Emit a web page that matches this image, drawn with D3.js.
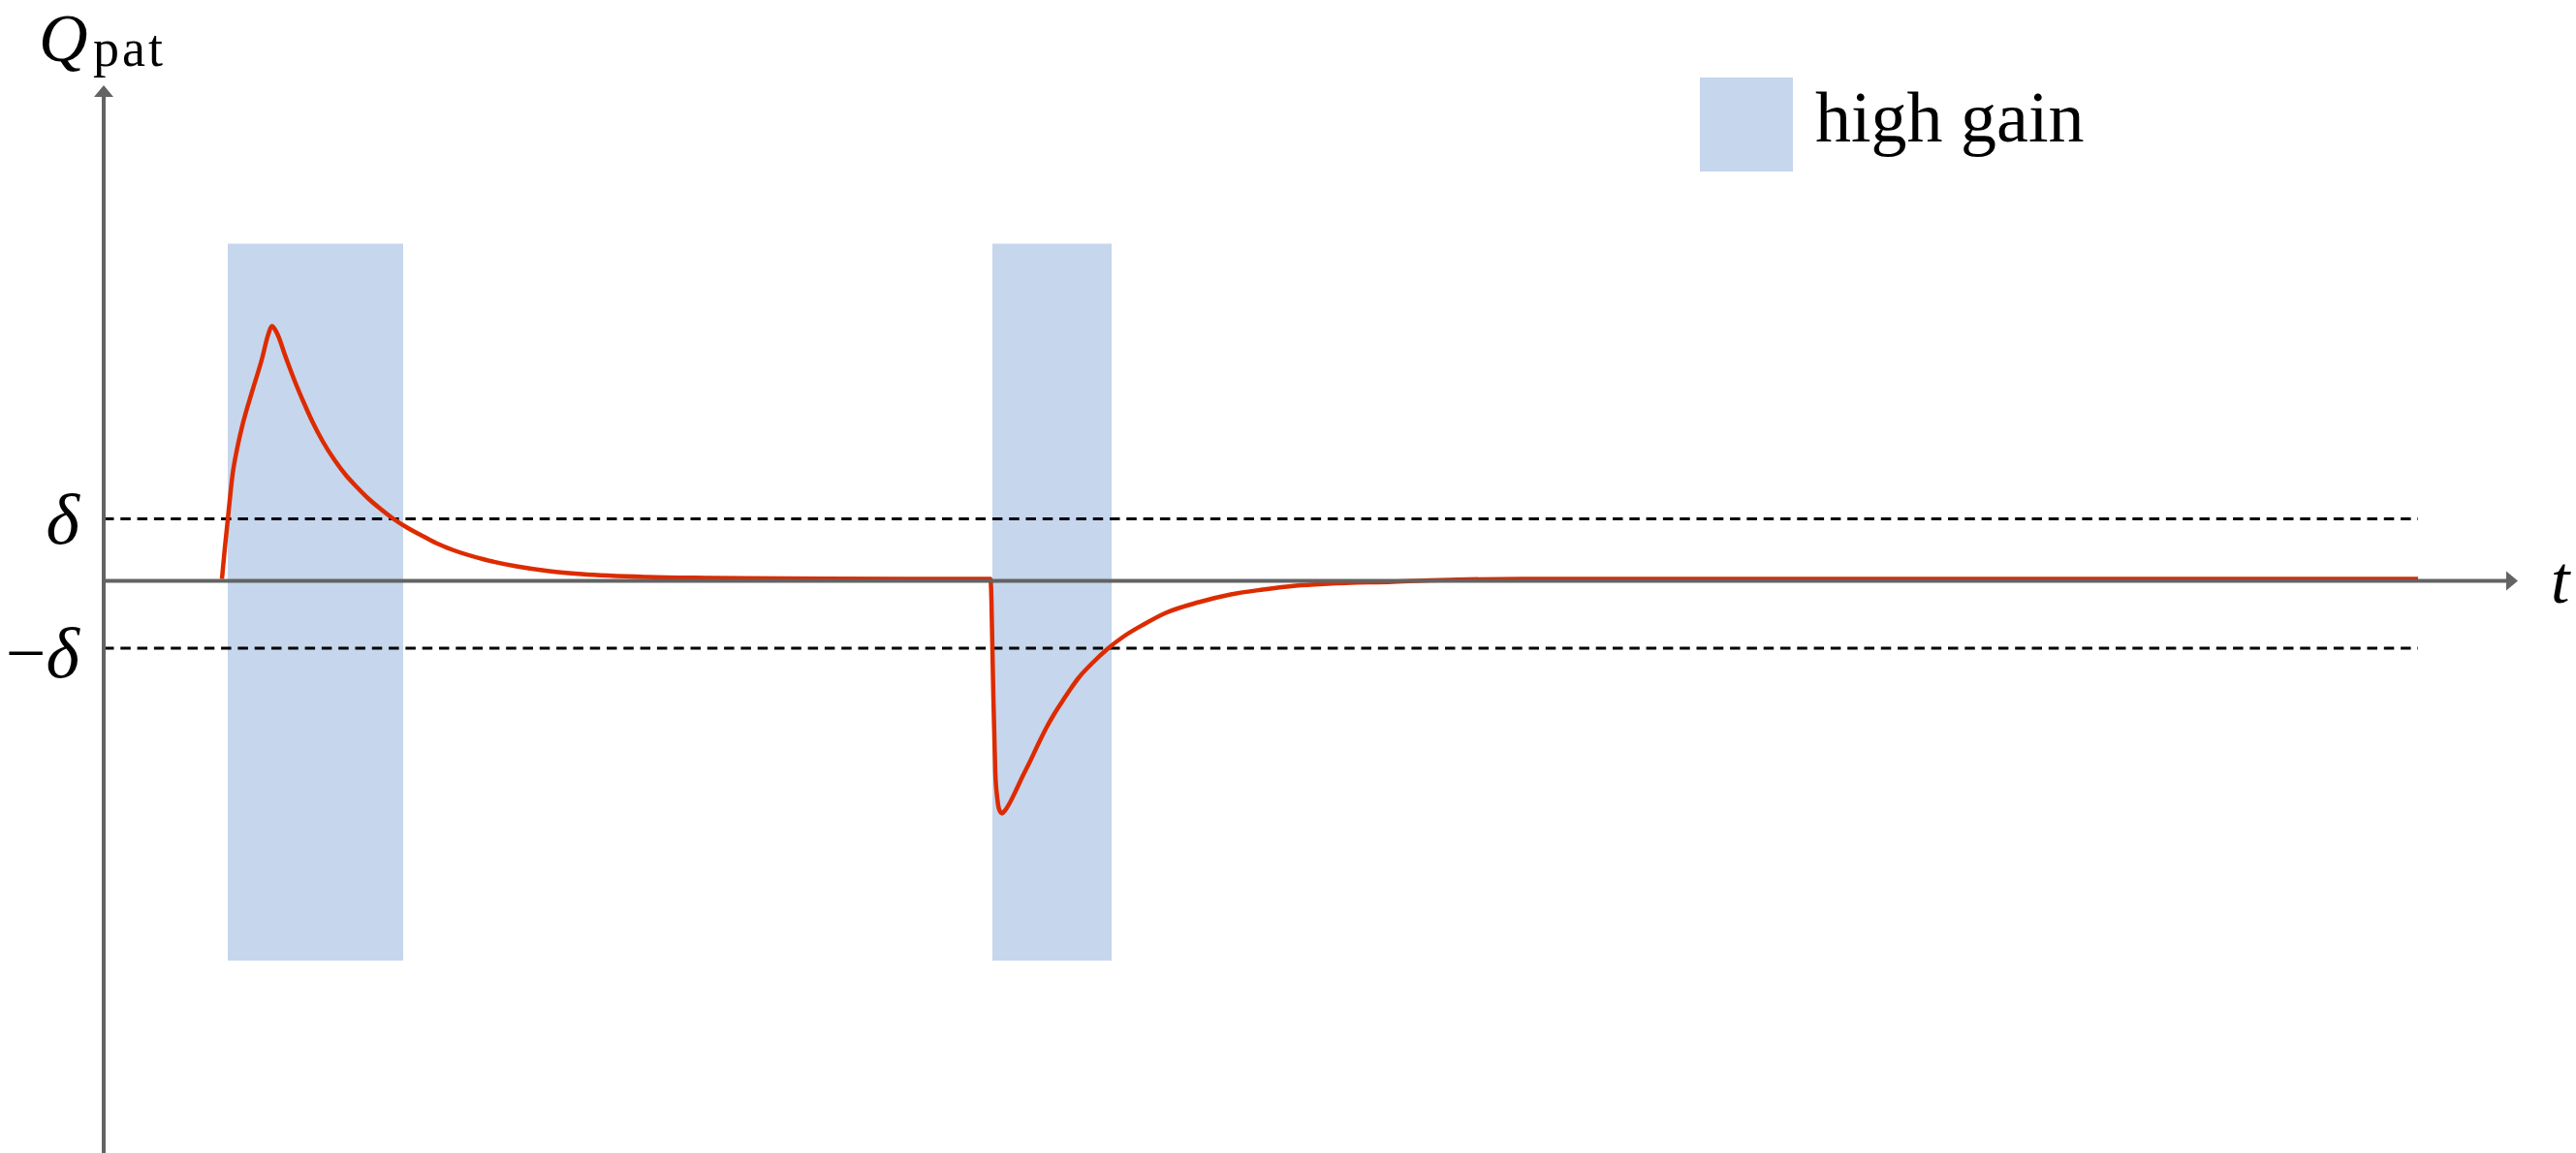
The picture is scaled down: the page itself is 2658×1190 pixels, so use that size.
<!DOCTYPE html>
<html>
<head>
<meta charset="utf-8">
<script src="https://cdn.jsdelivr.net/npm/d3@7"></script>
<style>
  html, body { margin: 0; padding: 0; background: #fff; }
  svg { display: block; }
</style>
</head>
<body>
<svg id="chart" width="2658" height="1190"></svg>
<script>
// ---------- data (time t, quantity Q_pat) ----------
const highGainIntervals = [[12.8, 30.9], [91.7, 104.0]];
const highGainBand = [-39.2, 34.8];           // vertical extent of shaded bands
const deltaUpper = 6.4;
const deltaLower = -6.95;
const curveEnd = 238.8;

const curveT = [
  12.2, 12.5, 12.8, 13.3, 13.8, 14.3, 15.3, 16.3, 17.0, 17.35, 17.7,
  18.0, 18.3, 18.6, 19.0, 19.8, 20.6, 21.6, 22.6, 23.8, 25.0, 26.1, 27.3, 28.6,
  29.9, 31.3, 32.6, 34.3, 36.0, 39.3, 42.6, 46.0, 49.3, 56.0, 62.6,
  74.3, 91.5,
  91.6, 91.7, 91.8, 91.9, 92.0, 92.2, 92.4, 92.7, 93.0, 93.5, 94.0,
  94.8, 95.6, 96.4, 97.3, 98.1, 99.0, 99.8, 100.6, 102.1, 103.6, 105.3,
  107.3, 109.6, 113.0, 116.3, 119.6, 123.0, 126.3, 133.0, 139.6, 146.3,
  238.8
];
const curveQ = [
  0.2, 3.4, 6.3, 11.0, 13.8, 16.0, 19.5, 22.8, 25.5, 26.3, 25.9,
  25.3, 24.5, 23.6, 22.5, 20.4, 18.5, 16.3, 14.4, 12.5, 10.9, 9.7, 8.5, 7.4,
  6.4, 5.5, 4.8, 3.9, 3.2, 2.2, 1.5, 1.0, 0.7, 0.4, 0.3,
  0.22, 0.2,
  -2.0, -7.0, -12.0, -16.0, -19.8, -22.4, -23.6, -24.0, -23.7, -22.9, -21.9,
  -20.2, -18.6, -16.9, -15.1, -13.7, -12.3, -11.1, -10.0, -8.4, -7.0, -5.7,
  -4.5, -3.3, -2.2, -1.4, -0.9, -0.5, -0.3, -0.1, 0.12, 0.2,
  0.2
];
const axisTExtent = [0, 249.1];
const axisQExtent = [-59.05, 51.15];
const legendLabel = "high gain";

// ---------- scales ----------
const svg = d3.select("#chart");
const x = d3.scaleLinear().domain(axisTExtent).range([107, 2598]);
const y = d3.scaleLinear().domain([-10, 10]).range([699.5, 499.5]);

const blue = "#c5d6ed";
const red = "#dd2b00";
const axisGrey = "#636363";

// shaded high-gain bands
svg.append("g").selectAll("rect")
  .data(highGainIntervals)
  .join("rect")
  .attr("x", d => x(d[0]))
  .attr("width", d => x(d[1]) - x(d[0]))
  .attr("y", y(highGainBand[1]))
  .attr("height", y(highGainBand[0]) - y(highGainBand[1]))
  .attr("fill", blue);

// dashed delta lines
svg.append("g").selectAll("line")
  .data([deltaUpper, deltaLower])
  .join("line")
  .attr("x1", x(0)).attr("x2", x(curveEnd))
  .attr("y1", d => y(d)).attr("y2", d => y(d))
  .attr("stroke", "#000")
  .attr("stroke-width", 2.8)
  .attr("stroke-dasharray", "10.5,6.8");

// red response curve
const pts = curveT.map((t, i) => [t, curveQ[i]]);
svg.append("path")
  .datum(pts)
  .attr("fill", "none")
  .attr("stroke", red)
  .attr("stroke-width", 4.5)
  .attr("stroke-linejoin", "round")
  .attr("d", d3.line().x(d => x(d[0])).y(d => y(d[1])).curve(d3.curveMonotoneX));

// axes with arrowheads
const ax = svg.append("g");
ax.append("line")
  .attr("x1", x(0)).attr("x2", x(axisTExtent[1]) - 11)
  .attr("y1", y(0)).attr("y2", y(0))
  .attr("stroke", axisGrey).attr("stroke-width", 4);
ax.append("line")
  .attr("x1", x(0)).attr("x2", x(0))
  .attr("y1", y(axisQExtent[0])).attr("y2", y(axisQExtent[1]) + 11)
  .attr("stroke", axisGrey).attr("stroke-width", 4);
const xt = x(axisTExtent[1]), y0 = y(0);
ax.append("path")
  .attr("d", `M${xt},${y0} L${xt - 12},${y0 - 10} L${xt - 12},${y0 + 10} Z`)
  .attr("fill", axisGrey);
const yt = y(axisQExtent[1]), x0 = x(0);
ax.append("path")
  .attr("d", `M${x0},${yt} L${x0 - 10},${yt + 12} L${x0 + 10},${yt + 12} Z`)
  .attr("fill", axisGrey);

// labels
const serif = "'Liberation Serif', 'DejaVu Serif', serif";
svg.append("text")
  .attr("x", 40).attr("y", 63)
  .attr("font-family", serif).attr("font-style", "italic")
  .attr("font-size", 70).attr("fill", "#000")
  .text("Q");
svg.append("text")
  .attr("x", 96).attr("y", 68)
  .attr("font-family", serif).attr("font-size", 54)
  .attr("letter-spacing", 3).attr("fill", "#000")
  .text("pat");

svg.append("text")
  .attr("x", 2632).attr("y", 622)
  .attr("font-family", serif).attr("font-style", "italic")
  .attr("font-size", 70).attr("fill", "#000")
  .text("t");

svg.append("g").selectAll("text")
  .data([{v: deltaUpper, s: "δ", dy: 25}, {v: deltaLower, s: "−δ", dy: 30}])
  .join("text")
  .attr("x", 82).attr("y", d => y(d.v) + d.dy)
  .attr("text-anchor", "end")
  .attr("font-family", serif).attr("font-size", 74).attr("fill", "#000")
  .each(function(d) {
    const t = d3.select(this);
    if (d.s.length > 1) t.append("tspan").text("−");
    t.append("tspan").attr("font-style", "italic").text("δ");
  });

// legend
svg.append("rect")
  .attr("x", 1754).attr("y", 80).attr("width", 96).attr("height", 97)
  .attr("fill", blue);
svg.append("text")
  .attr("x", 1873).attr("y", 146)
  .attr("font-family", serif).attr("font-size", 74).attr("fill", "#000")
  .text(legendLabel);
</script>
</body>
</html>
